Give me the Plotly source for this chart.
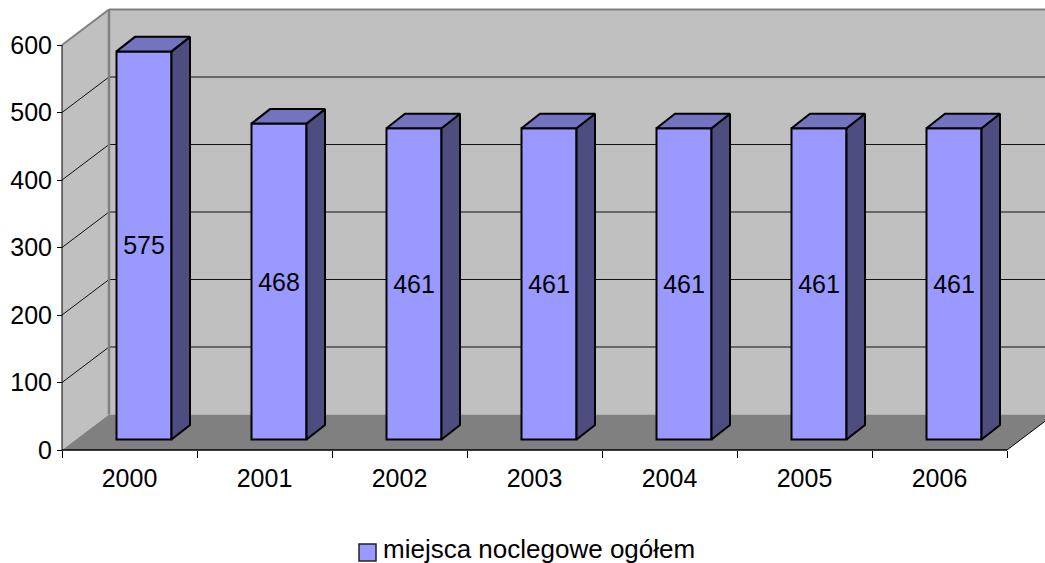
# %%
# Imports
import plotly.graph_objects as go

# %%
# Dane
lata = ["2000", "2001", "2002", "2003", "2004", "2005", "2006"]
miejsca = [575, 468, 461, 461, 461, 461, 461]
y_ticks = [0, 100, 200, 300, 400, 500, 600]
nazwa_serii = "miejsca noclegowe ogółem"

# %%
# Skala i geometria pseudo-3D (piksele -> jednostki osi)
PX_X = 135.0
PX_Y = 0.675
LEFT, RIGHT, TOP, BOTTOM = 50, 1045, 8, 460
WALL_DX, WALL_DY = 47 / PX_X, 35.5 / PX_Y
BAR_DX, BAR_DY = 14.5 / PX_X, 10.5 / PX_Y
SIDE_DX, SIDE_DY = 18.5 / PX_X, 14.5 / PX_Y
BAR_W = 55 / PX_X

xs = list(range(len(lata)))
x_min = -0.5
x_max = x_min + len(lata)


def poly(points):
    return "M " + " L ".join(f"{x},{y}" for x, y in points) + " Z"


def paper_x(px):
    return (px - LEFT) / (RIGHT - LEFT)


def paper_y(py):
    return (BOTTOM - py) / (BOTTOM - TOP)


shapes = []
# sciana boczna, tylna i podloga
shapes.append(dict(type="path", path=poly([(x_min, 0), (x_min + WALL_DX, WALL_DY), (x_min + WALL_DX, y_ticks[-1] + WALL_DY), (x_min, y_ticks[-1])]),
                   fillcolor="#C0C0C0", line=dict(width=0), layer="below"))
shapes.append(dict(type="path", path=poly([(x_min + WALL_DX, WALL_DY), (x_max + WALL_DX, WALL_DY), (x_max + WALL_DX, y_ticks[-1] + WALL_DY), (x_min + WALL_DX, y_ticks[-1] + WALL_DY)]),
                   fillcolor="#C0C0C0", line=dict(width=0), layer="below"))
shapes.append(dict(type="path", path=poly([(x_min, 0), (x_max, 0), (x_max + WALL_DX, WALL_DY), (x_min + WALL_DX, WALL_DY)]),
                   fillcolor="#808080", line=dict(width=0), layer="below"))


def line(x0, y0, x1, y1, color="#000000", width=1):
    shapes.append(dict(type="line", x0=x0, y0=y0, x1=x1, y1=y1, line=dict(color=color, width=width), layer="below"))


# linie siatki
for t in y_ticks[1:-1]:
    line(x_min, t, x_min + WALL_DX, t + WALL_DY, "#111111", 1)
    line(x_min + WALL_DX, t + WALL_DY, x_max + WALL_DX, t + WALL_DY, "#111111", 1)
# krawedzie scian
top = y_ticks[-1]
line(x_min, top, x_min + WALL_DX, top + WALL_DY, "#808080", 2)
line(x_min + WALL_DX, top + WALL_DY, x_max + WALL_DX, top + WALL_DY, "#808080", 2)
line(x_min + WALL_DX, WALL_DY, x_min + WALL_DX, top + WALL_DY, "#808080", 2.5)
# osie
line(x_min, 0, x_min, top, "#000000", 1)
line(x_min, 0, x_max, 0, "#000000", 1.5)
line(x_max, 0, x_max + WALL_DX, WALL_DY, "#000000", 1)

# legenda
shapes.append(dict(type="rect", xref="paper", yref="paper", x0=paper_x(359), x1=paper_x(376), y0=paper_y(561), y1=paper_y(544),
                   fillcolor="#9999FF", line=dict(color="#222222", width=1.5)))

# %%
# Wykres
fig = go.Figure()

fig.add_trace(
    go.Bar(
        x=[x + BAR_DX for x in xs],
        y=miejsca,
        base=BAR_DY,
        width=BAR_W,
        name=nazwa_serii,
        marker=dict(color="#9999FF", line=dict(color="#000000", width=2)),
        text=[str(v) for v in miejsca],
        textposition="inside",
        insidetextanchor="middle",
        textangle=0,
        constraintext="none",
        insidetextfont=dict(size=25, color="#000000", family="Liberation Sans"),
    )
)

# boki i wierzch slupkow
for x, v in zip(xs, miejsca):
    x0 = x + BAR_DX - BAR_W / 2
    x1 = x + BAR_DX + BAR_W / 2
    y0 = BAR_DY
    y1 = BAR_DY + v
    fig.add_trace(
        go.Scatter(
            x=[x1, x1 + SIDE_DX, x1 + SIDE_DX, x1, x1],
            y=[y0, y0 + SIDE_DY, y1 + SIDE_DY, y1, y0],
            fill="toself",
            fillcolor="#4D4D80",
            mode="lines",
            line=dict(color="#000000", width=2),
            hoverinfo="skip",
        )
    )
    fig.add_trace(
        go.Scatter(
            x=[x0, x1, x1 + SIDE_DX, x0 + SIDE_DX, x0],
            y=[y1, y1, y1 + SIDE_DY, y1 + SIDE_DY, y1],
            fill="toself",
            fillcolor="#7373BF",
            mode="lines",
            line=dict(color="#000000", width=2),
            hoverinfo="skip",
        )
    )

fig.add_annotation(
    xref="paper",
    yref="paper",
    x=paper_x(382),
    y=paper_y(549),
    xanchor="left",
    yanchor="middle",
    text=nazwa_serii,
    showarrow=False,
    font=dict(size=26, color="#000000"),
    borderpad=0,
)

fig.update_layout(
    width=1045,
    height=563,
    margin=dict(l=LEFT, r=0, t=TOP, b=563 - BOTTOM, pad=0),
    paper_bgcolor="#FFFFFF",
    plot_bgcolor="#FFFFFF",
    font=dict(family="Liberation Sans", size=25, color="#000000"),
    shapes=shapes,
    showlegend=False,
    xaxis=dict(
        range=[x_min - 12 / PX_X, x_min + 983 / PX_X],
        anchor="free",
        position=10 / (BOTTOM - TOP),
        tickmode="array",
        tickvals=xs,
        ticktext=lata,
        ticks="",
        ticklabelstandoff=11,
        showgrid=False,
        zeroline=False,
        showline=False,
        minor=dict(
            tickmode="array",
            tickvals=[x_min + i for i in range(len(lata) + 1)],
            ticks="outside",
            ticklen=7,
            tickwidth=1,
            tickcolor="#000000",
            showgrid=False,
        ),
    ),
    yaxis=dict(
        range=[-10 / PX_Y, (450 - TOP) / PX_Y],
        anchor="free",
        position=12 / (RIGHT - LEFT),
        tickmode="array",
        tickvals=y_ticks,
        ticks="outside",
        ticklen=5,
        tickwidth=1,
        tickcolor="#000000",
        showgrid=False,
        zeroline=False,
        showline=False,
    ),
)

# margines body przesuwalby i ucinal wykres
fig.write_html(
    "out.html",
    config={"displayModeBar": False},
    post_script="document.body.style.margin = '0';",
)
